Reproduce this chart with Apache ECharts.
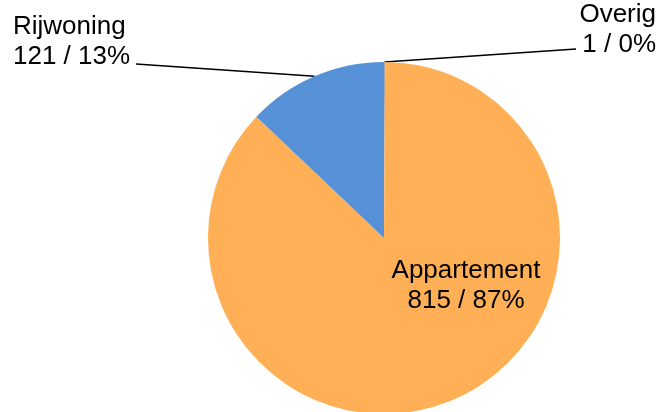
<!DOCTYPE html>
<html>
<head>
<meta charset="utf-8">
<style>html,body{margin:0;padding:0;background:#fff}#c{width:662px;height:412px}</style>
<script src="https://cdn.jsdelivr.net/npm/echarts@6/dist/echarts.min.js"></script>
</head>
<body>
<div id="c"></div>
<script>
const categories = ['Overig', 'Appartement', 'Rijwoning'];
const values = [1, 815, 121];
const colors = ['#A5A5A5', '#FFAF55', '#5691D7'];

// label placement (text anchor) and leader-line end per category
const labelPlace = {
  'Overig':      { x: 656, y: 30, align: 'right', lineEnd: [576, 49] },
  'Appartement': { x: 466, y: 286, align: 'center', lineEnd: null },
  'Rijwoning':   { x: 13, y: 42, align: 'left', lineEnd: [136, 64] }
};

const chart = echarts.init(document.getElementById('c'), null, { renderer: 'canvas' });
chart.setOption({
  animation: false,
  series: [{
    type: 'pie',
    center: [384, 238],
    radius: 176,
    startAngle: 90,
    clockwise: true,
    percentPrecision: 0,
    data: categories.map((c, i) => ({
      name: c, value: values[i],
      itemStyle: { color: colors[i] },
      labelLine: { show: c !== 'Appartement' }
    })),
    itemStyle: { borderWidth: 0 },
    label: {
      show: true,
      position: 'outside',
      formatter: '{b}\n{c} / {d}%',
      fontFamily: 'Liberation Sans, Arial, Helvetica, sans-serif',
      fontSize: 26,
      lineHeight: 30,
      color: '#000'
    },
    labelLine: {
      show: true,
      length: 10,
      length2: 40,
      lineStyle: { color: '#000', width: 1.5 }
    },
    labelLayout: function (params) {
      const name = categories[params.dataIndex];
      const p = labelPlace[name];
      const out = { x: p.x, y: p.y, align: p.align, verticalAlign: 'middle' };
      if (p.lineEnd && params.labelLinePoints && params.labelLinePoints.length) {
        out.labelLinePoints = [params.labelLinePoints[0], p.lineEnd];
      }
      return out;
    }
  }]
});
</script>
</body>
</html>
